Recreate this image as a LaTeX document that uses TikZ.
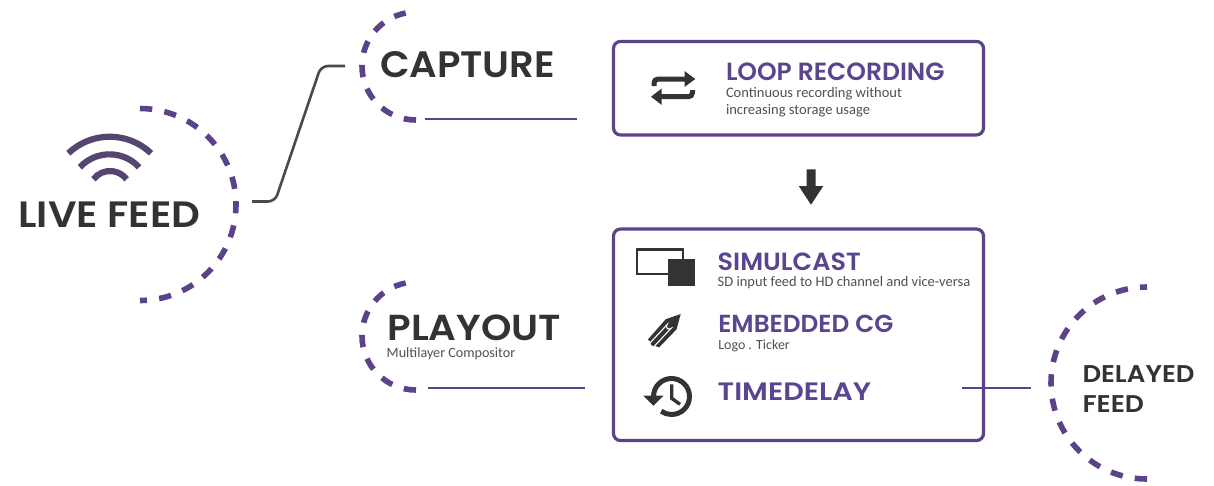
\documentclass[tikz,border=0pt]{standalone}
\usepackage{graphicx}
\usepackage{fontspec}
\setmainfont{Carlito}
\newfontfamily\headf{Poppins}[UprightFont=* SemiBold]
\definecolor{purp}{HTML}{5B4289}
\definecolor{purptext}{HTML}{5B4490}
\definecolor{dark}{HTML}{333333}
\definecolor{wire}{HTML}{4A4A4A}
\definecolor{wifi}{HTML}{55466F}
\definecolor{sub}{HTML}{505050}
\newcommand{\hd}[3]{\resizebox{#1pt}{#2pt}{\headf #3}}
\newcommand{\sbt}[2]{\resizebox{#1pt}{!}{\fontsize{12}{14}\selectfont #2}}
\tikzset{
  txt/.style={anchor=base west,inner sep=0pt,outer sep=0pt},
  head/.style={txt,text=dark},
  phead/.style={txt,text=purptext},
  subt/.style={txt,text=sub},
  ring/.style={draw=purp,line width=5.6pt,dash pattern=on 12.3pt off 12.25pt},
  bigbox/.style={draw=purp,line width=3.2pt,rounded corners=7pt,inner sep=0pt,fill=none},
  rule/.style={draw=purp,line width=2.6pt},
  wireline/.style={draw=wire,line width=2.6pt,rounded corners=7pt},
  wifiarc/.style={draw=wifi,line width=6.2pt},
  icon/.style={fill=dark,draw=none},
  iconline/.style={draw=dark,line width=5pt}
}
\begin{document}
\begin{tikzpicture}[x=1pt,y=1pt,yscale=-1]
\useasboundingbox[fill=white] (0,0) rectangle (1214,485);
% rings
\draw[ring] (140,108.5) arc[start angle=-90,end angle=90,radius=96];
\draw[ring] (416,120) arc[start angle=90,end angle=259,radius=54];
\draw[ring] (416,390) arc[start angle=90,end angle=259,radius=54];
\draw[ring] (1147,479) arc[start angle=90,end angle=270,radius=96];
% wifi
\draw[wifiarc] (109.7,196.5) ++(-133.7:59.8) arc[start angle=-133.7,end angle=-46.3,radius=59.8];
\draw[wifiarc] (109.5,194.6) ++(-137.4:40.3) arc[start angle=-137.4,end angle=-42.6,radius=40.3];
\draw[wifiarc] (110,191.8) ++(-143:20.8) arc[start angle=-143,end angle=-37,radius=20.8];
% titles
\node[head] (live) at (18.5,227) {\hd{182}{25.6}{LIVE FEED}};
\node[head] (capture) at (380,77) {\hd{175}{26}{CAPTURE}};
\node[head] (playout) at (387.5,340) {\hd{173.5}{25.6}{PLAYOUT}};
\node[subt] (playsub) at (386.7,357.7) {\sbt{128.5}{Multilayer Compositor}};
\node[head] (delayed) at (1082.5,382.7) {\hd{112}{16.9}{DELAYED}};
\node[head] (feed) at (1082.5,412.7) {\hd{61.5}{16.9}{FEED}};
% boxes
\node[bigbox,minimum width=370pt,minimum height=93.5pt] (loopbox) at (798.5,88.2) {};
\node[bigbox,minimum width=370pt,minimum height=211.5pt] (mainbox) at (798.5,334.8) {};
% connectors
\coordinate (w1) at (252,201.5);
\coordinate (w2) at (275,201.5);
\coordinate (w3) at (321,66);
\coordinate (w4) at (345,66);
\draw[wireline] (w1) -- (w2) -- (w3) -- (w4);
\coordinate (c1) at (425,119);
\coordinate (c2) at (577,119);
\draw[rule] (c1) -- (c2);
\coordinate (p1) at (428,388);
\coordinate (p2) at (585,388);
\draw[rule] (p1) -- (p2);
\coordinate (d1) at (961.7,388);
\coordinate (d2) at (1030.7,388);
\draw[rule] (d1) -- (d2);
% down arrow
\fill[icon] (806.7,169.3) -- (815.7,169.3) -- (815.7,186) -- (823.3,186) -- (811,204.7) -- (798.7,186) -- (806.7,186) -- cycle;
% loop box
\node[phead] (looptitle) at (726,80) {\hd{218.5}{17.6}{LOOP RECORDING}};
\node[subt] (loopsub1) at (726,97.7) {\sbt{176}{Continuous recording without}};
\node[subt] (loopsub2) at (726,114) {\sbt{144}{increasing storage usage}};
% loop icon
\draw[iconline,rounded corners=4pt] (654,86) -- (654,79) -- (686,79);
\fill[icon] (684.5,71) -- (695.3,79) -- (684.5,87) -- cycle;
\draw[iconline,rounded corners=4pt] (692.5,90) -- (692.5,96.7) -- (660,96.7);
\fill[icon] (661.7,88.5) -- (651,96.7) -- (661.7,105) -- cycle;
% main box
\node[phead] (simtitle) at (717.7,270) {\hd{143}{17.6}{SIMULCAST}};
\node[subt] (simsub) at (717.7,286.7) {\sbt{252.5}{SD input feed to HD channel and vice-versa}};
\node[phead] (cgtitle) at (718.3,332.2) {\hd{175}{17.4}{EMBEDDED CG}};
\node[subt] (cgsub) at (718.3,349) {\sbt{71.5}{Logo . Ticker}};
\node[phead] (tdtitle) at (717.7,400) {\hd{153.3}{17.6}{TIMEDELAY}};
% simulcast icon
\draw[dark,line width=2.4pt] (637.2,249.5) rectangle (682.8,273.8);
\fill[icon] (668,259) rectangle (695,286);
% pencil icon
\begin{scope}[shift={(680.7,314)},rotate=133]
  \fill[icon] (0,0) -- (14,-7.4) -- (39,-7) -- (41,-3) -- (43,0) -- (41,3) -- (41,6.6) -- (14,7.4) -- cycle;
  \draw[white,line width=1.1pt] (44,-2.7) -- (17,-2.7) arc[start angle=-90,end angle=90,radius=2.7] -- (44,2.7);
\end{scope}
% history icon
\draw[iconline,line width=5pt] (653.5,396.5) arc[start angle=180,end angle=485,radius=18];
\fill[icon] (643.3,395.7) -- (663.3,395.7) -- (653.3,405.7) -- cycle;
\draw[dark,line width=3.4pt] (671.7,384.3) -- (671.7,398.3) -- (680,404.3);
\end{tikzpicture}
\end{document}
